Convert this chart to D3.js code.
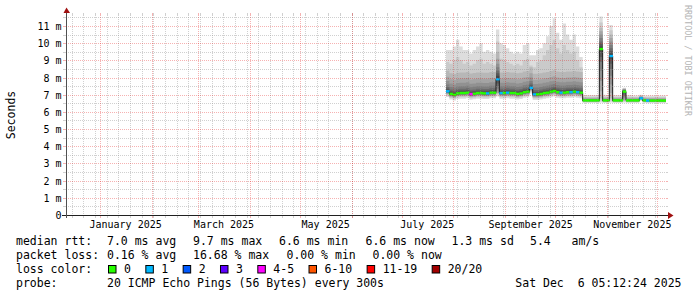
<!DOCTYPE html>
<html>
<head>
<meta charset="utf-8">
<script src="https://cdn.jsdelivr.net/npm/d3@7"></script>
<style>
body { margin: 0; background: #fff; }
svg text { font-family: "DejaVu Sans Mono", monospace; fill: #000; white-space: pre; }
</style>
</head>
<body>
<div id="chart"></div>
<script>
// 360 day window ending at the probe time
var graphEnd = new Date(Date.UTC(2025, 11, 6, 5, 12, 24));
var graphStart = d3.utcDay.offset(graphEnd, -360);

// one consolidated step every 2 days, data starts 27 Jul 2025
var dataStart = new Date(Date.UTC(2025, 6, 27, 5, 12, 24));
var stepDays = 2;

// median rtt per step (ms)
var median = [
    7.20, 7.05, 7.00, 7.08, 7.10, 7.10, 7.12, 7.04, 7.06, 7.10,
    7.10, 7.08, 7.08, 7.12, 7.12, 7.90, 7.10, 7.10, 7.12, 7.10,
    7.10, 7.05, 7.08, 7.15, 7.18, 7.40, 7.02, 7.02, 7.05, 7.10,
    7.12, 7.18, 7.22, 7.15, 7.12, 7.12, 7.15, 7.15, 7.18, 7.15,
    7.12, 6.67, 6.67, 6.67, 6.67, 6.67, 9.66, 6.67, 6.67, 9.25,
    6.67, 6.67, 6.67, 7.18, 6.67, 6.67, 6.67, 6.67, 6.79, 6.67,
    6.66, 6.66, 6.66, 6.66, 6.66, 6.66
];

// average lost pings per step (of 20)
var loss = [
    0.15, 0, 0, 0, 0, 0, 0, 3.34, 0, 0,
    0, 0, 0.1, 0, 0, 0.1, 0.1, 0, 0.1, 0,
    0, 0, 0, 0, 0, 0.2, 0.1, 0, 0, 0,
    0, 0, 0, 0, 0.1, 0, 0, 0.1, 0, 0.1,
    0, 0, 0, 0, 0, 0, 0, 0, 0, 0.1,
    0, 0, 0, 0, 0, 0, 0, 0, 0.1, 0,
    0.1, 0, 0, 0, 0, 0
];

// slowest ping (20th) and 19th ping per step (ms)
var ping20 = [
    9.6, 9.6, 9.8, 10.2, 9.8, 9.6, 9.6, 9.4, 9.6, 9.8,
    10.0, 9.5, 9.6, 9.5, 9.4, 10.8, 10.0, 9.9, 9.7, 9.5,
    9.4, 9.5, 9.4, 9.9, 10.0, 9.3, 9.3, 9.6, 9.7, 10.0,
    10.4, 11.0, 11.45, 10.6, 10.2, 11.15, 10.5, 10.2, 10.5, 9.8,
    9.2, 6.98, 6.98, 6.98, 6.98, 6.98, 11.55, 7.0, 6.98, 11.06,
    6.98, 6.98, 6.98, 7.4, 6.98, 6.98, 6.96, 6.96, 7.0, 6.96,
    6.95, 6.95, 6.95, 6.95, 6.95, 6.95
];
var ping19 = [
    8.9, 8.8, 9.0, 9.2, 9.0, 8.8, 8.9, 8.7, 8.8, 9.0,
    9.1, 8.8, 8.9, 8.8, 8.7, 10.1, 9.1, 9.0, 8.9, 8.8,
    8.7, 8.8, 8.7, 9.0, 9.1, 8.7, 8.6, 8.9, 9.0, 9.3,
    9.6, 9.9, 10.2, 9.7, 9.4, 9.9, 9.6, 9.4, 9.5, 9.0,
    8.6, 6.88, 6.88, 6.88, 6.88, 6.88, 11.2, 6.9, 6.88, 10.75,
    6.88, 6.88, 6.88, 7.37, 6.88, 6.88, 6.87, 6.87, 6.92, 6.87,
    6.86, 6.86, 6.86, 6.86, 6.86, 6.86
];

// pings 1..18 as offset from the median, before and after the path change
var profileSummer = [-0.33, -0.24, -0.19, -0.15, -0.12, -0.09, -0.07, -0.05, -0.02, 0,
    0.03, 0.08, 0.15, 0.25, 0.4, 0.6, 0.85, 1.2];
var profileAutumn = [-0.15, -0.1, -0.08, -0.06, -0.05, -0.04, -0.03, -0.02, -0.01, 0,
    0.01, 0.02, 0.03, 0.04, 0.06, 0.08, 0.12, 0.17];
var firstAutumnStep = 41;

// steps with spikes: all 20 sorted pings
var spikePings = {
    15: [6.9, 7.0, 7.05, 7.1, 7.2, 7.35, 7.5, 7.65, 7.8, 7.9, 7.95, 8.1, 8.25, 8.4, 8.6, 8.8, 9.1, 9.5, 10.1, 10.8],
    46: [6.55, 6.65, 6.8, 7.2, 7.8, 8.4, 8.9, 9.2, 9.5, 9.66, 9.7, 9.8, 9.95, 10.1, 10.3, 10.5, 10.7, 10.9, 11.2, 11.55],
    49: [6.55, 6.65, 6.8, 7.1, 7.6, 8.1, 8.5, 8.8, 9.1, 9.25, 9.3, 9.4, 9.55, 9.7, 9.9, 10.1, 10.3, 10.5, 10.75, 11.06],
    53: [6.55, 6.6, 6.65, 6.7, 6.8, 6.9, 7.0, 7.08, 7.14, 7.18, 7.2, 7.22, 7.25, 7.27, 7.29, 7.31, 7.33, 7.35, 7.37, 7.4]
};

var yMax = 11.64;
var yTickValues = [0, 1, 2, 3, 4, 5, 6, 7, 8, 9, 10, 11];
var yTickLabels = ["0", "1 m", "2 m", "3 m", "4 m", "5 m", "6 m", "7 m", "8 m", "9 m", "10 m", "11 m"];
var xLabelMonths = ["2025-01", "2025-03", "2025-05", "2025-07", "2025-09", "2025-11"];

var rttStats = ["7.0 ms avg", "9.7 ms max", "6.6 ms min", "6.6 ms now", "1.3 ms sd", "5.4   am/s"];
var lossStats = ["0.16 % avg", "16.68 % max", "0.00 % min", "0.00 % now"];
var lossLabels = ["0", "1", "2", "3", "4-5", "6-10", "11-19", "20/20"];
var lossColors = ["#26ff00", "#00b8ff", "#0059ff", "#5e00ff", "#ff00ff", "#ff5500", "#ff0000", "#a10000"];
var lossLimits = [0, 1, 2, 3, 5, 10, 19, 20];
var probeText = "20 ICMP Echo Pings (56 Bytes) every 300s";
var stampText = "Sat Dec  6 05:12:24 2025";

var smokeShades = ["#dddddd", "#cacaca", "#b7b7b7", "#a4a4a4", "#919191",
    "#7e7e7e", "#6b6b6b", "#585858", "#454545", "#323232"];

var width = 697, height = 297;
var plotLeft = 66, plotRight = 666, plotTop = 15, plotBottom = 215;

var svg = d3.select("#chart").append("svg")
    .attr("width", width)
    .attr("height", height);

svg.append("rect").attr("width", width).attr("height", height).attr("fill", "#fff");

var x = d3.scaleUtc().domain([graphStart, graphEnd]).range([plotLeft, plotRight]);
var y = d3.scaleLinear().domain([0, yMax]).range([plotBottom, plotTop]);

// build steps
var steps = median.map(function(m, i) {
    var pings = spikePings[i];
    if (!pings) {
        var prof = i < firstAutumnStep ? profileSummer : profileAutumn;
        pings = prof.map(function(o) { return m + o; }).concat([ping19[i], ping20[i]]);
    }
    return {
        t0: d3.utcDay.offset(dataStart, i * stepDays),
        t1: d3.utcDay.offset(dataStart, (i + 1) * stepDays),
        median: m,
        loss: loss[i],
        pings: pings
    };
});
var last = steps[steps.length - 1];
var pts = steps.map(function(s) { return {t: s.t0, s: s}; }).concat([{t: last.t1, s: last}]);

svg.append("clipPath").attr("id", "clip")
    .append("rect").attr("x", plotLeft).attr("y", 0)
    .attr("width", plotRight - plotLeft).attr("height", plotBottom);
var data = svg.append("g").attr("clip-path", "url(#clip)");

// smoke: band k spans ping k .. ping 19-k
smokeShades.forEach(function(col, k) {
    var area = d3.area()
        .curve(d3.curveStepAfter)
        .x(function(d) { return x(d.t); })
        .y0(function(d) { return y(d.s.pings[k]); })
        .y1(function(d) { return y(d.s.pings[19 - k]); });
    data.append("path").datum(pts).attr("d", area).attr("fill", col);
});

// median line
var line = d3.line()
    .curve(d3.curveStepAfter)
    .x(function(d) { return x(d.t); })
    .y(function(d) { return y(d.s.median); });
data.append("path").datum(pts).attr("d", line)
    .attr("fill", "none").attr("stroke", "#202020").attr("stroke-width", 1);

function lossColor(l) {
    for (var i = 0; i < lossLimits.length; i++) {
        if (l <= lossLimits[i]) return lossColors[i];
    }
    return lossColors[lossColors.length - 1];
}

var medWidth = yMax / 200;
data.selectAll("rect.med").data(steps).enter().append("rect")
    .attr("class", "med")
    .attr("x", function(d) { return x(d.t0); })
    .attr("width", function(d) { return x(d.t1) - x(d.t0) + 0.3; })
    .attr("y", function(d) { return y(d.median + medWidth * 1.2); })
    .attr("height", function(d) { return y(d.median - medWidth * 1.2) - y(d.median + medWidth * 1.2); })
    .attr("fill", function(d) { return lossColor(d.loss); });

// grid on top
var gridMinor = "rgba(143,143,143,0.42)";
var gridMajor = "rgba(225,0,0,0.3)";
var grid = svg.append("g").attr("shape-rendering", "crispEdges");

function px(v) { return Math.floor(v) + 0.5; }
function py(v) { return Math.round(y(v)) + 0.5; }

var weeks = d3.utcSunday.range(graphStart, graphEnd);
var months = d3.utcMonth.range(graphStart, graphEnd);

function vLines(times, col) {
    var g = grid.append("g").attr("stroke", col);
    g.selectAll("line.dot").data(times).enter().append("line")
        .attr("class", "dot")
        .attr("x1", function(d) { return px(x(d)); })
        .attr("x2", function(d) { return px(x(d)); })
        .attr("y1", plotTop).attr("y2", plotBottom)
        .attr("stroke-dasharray", "1,1");
    g.selectAll("line.tb").data(times).enter().append("line")
        .attr("class", "tb")
        .attr("x1", function(d) { return px(x(d)); })
        .attr("x2", function(d) { return px(x(d)); })
        .attr("y1", plotBottom).attr("y2", plotBottom + 3);
    g.selectAll("line.tt").data(times).enter().append("line")
        .attr("class", "tt")
        .attr("x1", function(d) { return px(x(d)); })
        .attr("x2", function(d) { return px(x(d)); })
        .attr("y1", plotTop - 2).attr("y2", plotTop);
}
function hLines(vals, col) {
    var g = grid.append("g").attr("stroke", col);
    g.selectAll("line.dot").data(vals).enter().append("line")
        .attr("class", "dot")
        .attr("x1", plotLeft).attr("x2", plotRight)
        .attr("y1", py).attr("y2", py)
        .attr("stroke-dasharray", "1,1");
    g.selectAll("line.tl").data(vals).enter().append("line")
        .attr("class", "tl")
        .attr("x1", plotLeft - 3).attr("x2", plotLeft)
        .attr("y1", py).attr("y2", py);
    g.selectAll("line.tr").data(vals).enter().append("line")
        .attr("class", "tr")
        .attr("x1", plotRight).attr("x2", plotRight + 2)
        .attr("y1", py).attr("y2", py);
}

var halfTicks = yTickValues.map(function(v) { return v + 0.5; })
    .filter(function(v) { return v < yMax; });
vLines(weeks, gridMinor);
hLines(halfTicks, gridMinor);
vLines(months, gridMajor);
hLines(yTickValues.slice(1), gridMajor);

// axes
var axis = svg.append("g").attr("shape-rendering", "crispEdges");
axis.append("line").attr("x1", plotLeft - 4).attr("x2", plotRight + 4)
    .attr("y1", plotBottom + 0.5).attr("y2", plotBottom + 0.5).attr("stroke", "#202020");
axis.append("line").attr("x1", plotLeft + 0.5).attr("x2", plotLeft + 0.5)
    .attr("y1", plotBottom + 3).attr("y2", plotTop - 4).attr("stroke", "#505050");
svg.append("path").attr("d", "M668,212L668,219L673.5,215.5Z").attr("fill", "#a01010");
svg.append("path").attr("d", "M63.5,13L70,13L66.5,7.5Z").attr("fill", "#a01010");

// y labels
svg.selectAll("text.ytick").data(yTickValues).enter().append("text")
    .attr("class", "ytick")
    .attr("x", 61.5)
    .attr("y", function(d) { return Math.round(y(d)) + 4; })
    .attr("text-anchor", "end")
    .attr("font-size", "10px")
    .text(function(d, i) { return yTickLabels[i]; });

// x labels centred half a month after the month start
var parseMonth = d3.utcParse("%Y-%m");
var fmt = d3.utcFormat("%B %Y");
svg.selectAll("text.xtick").data(xLabelMonths).enter().append("text")
    .attr("class", "xtick")
    .attr("x", function(d) { return x(d3.utcDay.offset(parseMonth(d), 15)); })
    .attr("y", 228)
    .attr("text-anchor", "middle")
    .attr("font-size", "10px")
    .text(function(d) { return fmt(parseMonth(d)); });

svg.append("text")
    .attr("transform", "translate(15," + (plotTop + plotBottom) / 2 + ") rotate(-90)")
    .attr("text-anchor", "middle")
    .attr("font-size", "11.5px")
    .text("Seconds");

svg.append("text")
    .attr("transform", "translate(684.5,5) rotate(90)")
    .attr("font-size", "8.4px")
    .style("fill", "#b4b4b4")
    .text("RRDTOOL / TOBI OETIKER");

// legend
var legend = svg.append("g").attr("font-size", "11.5px");
var charW = 6.93;
var rowY = [245, 259, 273, 287];
var rowTitles = ["median rtt:", "packet loss:", "loss color:", "probe:"];
rowTitles.forEach(function(t, i) {
    legend.append("text").attr("x", 16).attr("y", rowY[i]).text(t);
});
var rttX = [107, 193, 279, 365.5, 451.5, 530];
rttStats.forEach(function(t, i) {
    legend.append("text").attr("x", rttX[i]).attr("y", rowY[0]).text(t);
});
var lossX = [107, 193, 286.5, 372.5];
lossStats.forEach(function(t, i) {
    legend.append("text").attr("x", lossX[i]).attr("y", rowY[1]).text(t);
});
var bx = 108.5;
lossLabels.forEach(function(t, i) {
    legend.append("rect")
        .attr("x", bx).attr("y", rowY[2] - 7.5)
        .attr("width", 7.5).attr("height", 7.5)
        .attr("fill", lossColors[i]).attr("stroke", "#000").attr("stroke-width", 1);
    legend.append("text").attr("x", bx + 15.5).attr("y", rowY[2]).text(t);
    bx = bx + 15.5 + t.length * charW + 14.9;
});
legend.append("text").attr("x", 107).attr("y", rowY[3]).text(probeText);
legend.append("text").attr("x", 681.5).attr("y", rowY[3]).attr("text-anchor", "end")
    .text(stampText);
</script>
</body>
</html>
